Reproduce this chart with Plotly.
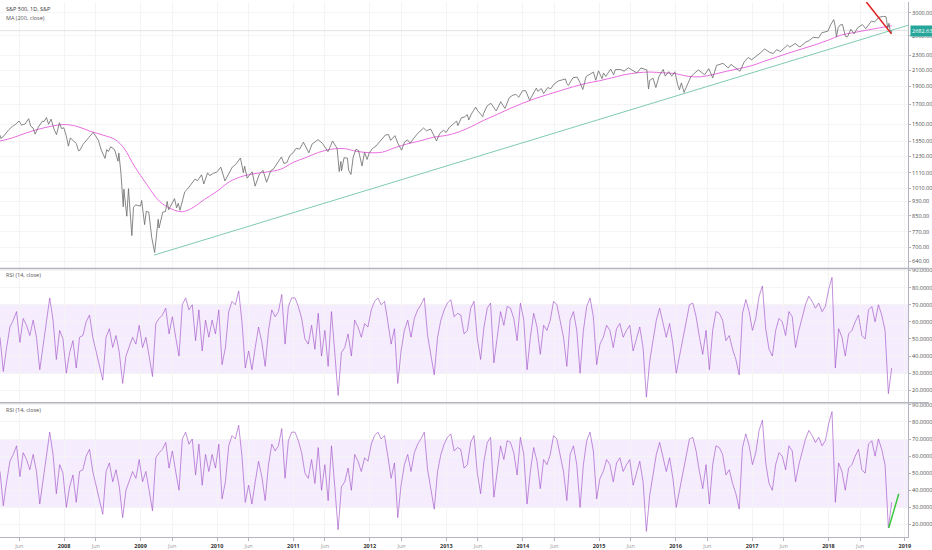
import numpy as np
import pandas as pd
import plotly.graph_objects as go
from plotly.subplots import make_subplots

PRICE_DATES = [
    '2007-03-01', '2007-03-05', '2007-03-15', '2007-03-30', '2007-04-13', '2007-04-30', '2007-05-15',
    '2007-05-31', '2007-06-12', '2007-06-29', '2007-07-16', '2007-07-26', '2007-08-06', '2007-08-16',
    '2007-08-31', '2007-09-19', '2007-09-28', '2007-10-09', '2007-10-19', '2007-10-31', '2007-11-15',
    '2007-11-26', '2007-12-10', '2007-12-20', '2007-12-31',
    '2008-01-11', '2008-01-22', '2008-01-31', '2008-02-15', '2008-02-29', '2008-03-10', '2008-03-17',
    '2008-03-31', '2008-04-15', '2008-04-30', '2008-05-19', '2008-05-30', '2008-06-13', '2008-06-27',
    '2008-07-15', '2008-07-23', '2008-07-31', '2008-08-11', '2008-08-29', '2008-09-15', '2008-09-19',
    '2008-09-29', '2008-10-10', '2008-10-13', '2008-10-27', '2008-11-04', '2008-11-20', '2008-11-28',
    '2008-12-08', '2008-12-31',
    '2009-01-06', '2009-01-20', '2009-01-28', '2009-02-09', '2009-02-23', '2009-03-09', '2009-03-26',
    '2009-03-30', '2009-04-17', '2009-04-30', '2009-05-08', '2009-05-15', '2009-06-12', '2009-06-22',
    '2009-06-30', '2009-07-08', '2009-07-31', '2009-08-14', '2009-08-28', '2009-09-18', '2009-09-30',
    '2009-10-19', '2009-10-30', '2009-11-17', '2009-11-27', '2009-12-15', '2009-12-31',
    '2010-01-19', '2010-02-08', '2010-02-26', '2010-03-15', '2010-03-31', '2010-04-23', '2010-05-07',
    '2010-05-13', '2010-05-25', '2010-06-18', '2010-07-02', '2010-07-23', '2010-08-09', '2010-08-26',
    '2010-09-15', '2010-09-30', '2010-10-15', '2010-11-05', '2010-11-16', '2010-11-30', '2010-12-15',
    '2010-12-31',
    '2011-01-14', '2011-01-31', '2011-02-18', '2011-03-16', '2011-03-31', '2011-04-29', '2011-05-20',
    '2011-06-15', '2011-06-30', '2011-07-07', '2011-07-29', '2011-08-08', '2011-08-16', '2011-08-19',
    '2011-08-31', '2011-09-16', '2011-09-22', '2011-10-03', '2011-10-14', '2011-10-27', '2011-11-08',
    '2011-11-25', '2011-12-07', '2011-12-19', '2011-12-30',
    '2012-01-13', '2012-01-31', '2012-02-15', '2012-03-16', '2012-03-30', '2012-04-10', '2012-04-30',
    '2012-05-15', '2012-06-01', '2012-06-15', '2012-06-29', '2012-07-12', '2012-07-31', '2012-08-17',
    '2012-09-14', '2012-09-28', '2012-10-18', '2012-10-31', '2012-11-15', '2012-11-30', '2012-12-18',
    '2012-12-31',
    '2013-01-15', '2013-01-31', '2013-02-19', '2013-02-25', '2013-03-14', '2013-03-28', '2013-04-11',
    '2013-04-18', '2013-04-30', '2013-05-21', '2013-05-31', '2013-06-24', '2013-06-28', '2013-07-15',
    '2013-08-02', '2013-08-27', '2013-09-18', '2013-09-30', '2013-10-08', '2013-10-29', '2013-11-15',
    '2013-11-29', '2013-12-13', '2013-12-31',
    '2014-01-15', '2014-02-03', '2014-02-28', '2014-03-07', '2014-03-14', '2014-03-31', '2014-04-11',
    '2014-04-30', '2014-05-15', '2014-05-30', '2014-06-20', '2014-07-24', '2014-07-31', '2014-08-07',
    '2014-08-29', '2014-09-18', '2014-10-01', '2014-10-15', '2014-10-31', '2014-11-28', '2014-12-05',
    '2014-12-16', '2014-12-29',
    '2015-01-15', '2015-01-22', '2015-02-02', '2015-02-25', '2015-03-11', '2015-03-20', '2015-04-15',
    '2015-04-30', '2015-05-21', '2015-06-30', '2015-07-20', '2015-08-17', '2015-08-25', '2015-08-31',
    '2015-09-16', '2015-09-29', '2015-10-15', '2015-11-03', '2015-11-13', '2015-11-30', '2015-12-14',
    '2015-12-29',
    '2016-01-11', '2016-01-20', '2016-01-29', '2016-02-11', '2016-02-29', '2016-03-15', '2016-03-31',
    '2016-04-20', '2016-05-19', '2016-06-08', '2016-06-27', '2016-07-15', '2016-08-15', '2016-09-09',
    '2016-09-22', '2016-10-14', '2016-11-04', '2016-11-25', '2016-12-13', '2016-12-30',
    '2017-01-26', '2017-02-15', '2017-03-01', '2017-03-27', '2017-04-13', '2017-04-28', '2017-05-17',
    '2017-06-19', '2017-06-30', '2017-07-26', '2017-08-10', '2017-08-18', '2017-09-15', '2017-09-29',
    '2017-10-20', '2017-11-15', '2017-11-30', '2017-12-29',
    '2018-01-12', '2018-01-26', '2018-02-02', '2018-02-08', '2018-02-16', '2018-02-26', '2018-03-09',
    '2018-03-23', '2018-04-02', '2018-04-18', '2018-05-03', '2018-05-21', '2018-06-12', '2018-06-28',
    '2018-07-25', '2018-08-10', '2018-08-29', '2018-09-20', '2018-10-03', '2018-10-11', '2018-10-17',
    '2018-10-24', '2018-10-29', '2018-10-30',
]
PRICE_CLOSE = [
    1403, 1374, 1387, 1421, 1452, 1482, 1501, 1531, 1493, 1503, 1553, 1482, 1467, 1411,
    1474, 1529, 1527, 1565, 1501, 1549, 1451, 1407, 1515, 1461, 1468,
    1401, 1310, 1379, 1350, 1331, 1273, 1277, 1323, 1351, 1386, 1427, 1400, 1360, 1278,
    1214, 1283, 1267, 1305, 1283, 1193, 1255, 1106, 899, 1003, 848, 1006, 752, 896,
    910, 903,
    935, 805, 874, 870, 743, 677, 832, 788, 870, 873, 929, 883, 946, 893,
    919, 880, 987, 1005, 1028, 1068, 1057, 1097, 1036, 1110, 1091, 1107, 1115,
    1150, 1056, 1104, 1150, 1169, 1217, 1111, 1157, 1074, 1117, 1022, 1103, 1127, 1047,
    1125, 1141, 1176, 1225, 1178, 1181, 1236, 1258,
    1293, 1286, 1343, 1257, 1326, 1364, 1333, 1266, 1321, 1353, 1292, 1119, 1192, 1124,
    1219, 1216, 1129, 1099, 1225, 1285, 1275, 1159, 1261, 1206, 1258,
    1289, 1312, 1343, 1404, 1408, 1358, 1398, 1331, 1278, 1343, 1362, 1334, 1379, 1418,
    1466, 1441, 1457, 1412, 1353, 1416, 1446, 1426,
    1472, 1498, 1530, 1488, 1563, 1569, 1593, 1541, 1598, 1669, 1631, 1573, 1606, 1682,
    1709, 1630, 1726, 1682, 1656, 1771, 1798, 1806, 1775, 1848,
    1848, 1742, 1859, 1878, 1841, 1872, 1816, 1884, 1870, 1924, 1963, 1988, 1931, 1910,
    2003, 2011, 1946, 1862, 2018, 2068, 2075, 1972, 2091,
    1992, 2063, 2020, 2114, 2040, 2108, 2107, 2086, 2131, 2063, 2128, 2102, 1868, 1972,
    1996, 1884, 2023, 2109, 2023, 2080, 2022, 2078,
    1923, 1859, 1940, 1829, 1932, 2016, 2060, 2102, 2040, 2119, 2001, 2162, 2190, 2128,
    2177, 2133, 2085, 2213, 2271, 2239,
    2297, 2349, 2396, 2342, 2329, 2384, 2357, 2453, 2423, 2477, 2438, 2426, 2500, 2519,
    2575, 2565, 2648, 2674,
    2786, 2873, 2762, 2581, 2732, 2780, 2786, 2588, 2582, 2708, 2630, 2733, 2787, 2716,
    2846, 2833, 2914, 2931, 2925, 2728, 2809, 2656, 2641, 2682.63,
]

# MA (200, close)
MA_DATES = [
    '2007-03-01', '2007-05-01', '2007-07-01', '2007-09-01', '2007-11-01', '2008-01-01', '2008-03-01',
    '2008-05-01', '2008-07-01', '2008-09-01', '2008-10-15', '2008-12-01', '2009-02-01', '2009-04-01',
    '2009-06-01', '2009-07-20', '2009-09-01', '2009-11-01', '2010-01-01', '2010-03-01', '2010-05-01',
    '2010-07-01', '2010-09-01', '2010-11-01', '2011-01-01', '2011-03-01', '2011-05-01', '2011-07-01',
    '2011-09-01', '2011-11-01', '2012-01-01', '2012-03-01', '2012-05-01', '2012-07-01', '2012-09-01',
    '2012-11-01', '2013-01-01', '2013-03-01', '2013-05-01', '2013-07-01', '2013-09-01', '2013-11-01',
    '2014-01-01', '2014-03-01', '2014-05-01', '2014-07-01', '2014-09-01', '2014-11-01', '2015-01-01',
    '2015-03-01', '2015-05-01', '2015-07-01', '2015-09-01', '2015-11-01', '2016-01-01', '2016-03-01',
    '2016-05-01', '2016-07-01', '2016-09-01', '2016-11-01', '2017-01-01', '2017-03-01', '2017-05-01',
    '2017-07-01', '2017-09-01', '2017-11-01', '2018-01-01', '2018-03-01', '2018-05-01', '2018-07-01',
    '2018-09-01', '2018-10-30',
]
MA_VALUES = [
    1352, 1380, 1420, 1455, 1482, 1498, 1482,
    1440, 1405, 1365, 1290, 1160, 1030, 930,
    885, 872, 890, 940, 990, 1050, 1086,
    1105, 1117, 1135, 1185, 1220, 1260, 1285,
    1290, 1268, 1258, 1262, 1298, 1330, 1355,
    1385, 1400, 1430, 1480, 1540, 1595, 1655,
    1710, 1760, 1805, 1850, 1895, 1935, 1965,
    2000, 2040, 2065, 2075, 2065, 2055, 2020,
    2015, 2045, 2085, 2120, 2160, 2220, 2280,
    2340, 2400, 2460, 2530, 2610, 2650, 2690,
    2730, 2765,
]

# RSI (14, close) at evenly spaced bars
RSI_START, RSI_END = '2007-03-01', '2018-10-30'
RSI_VALUES = [
    51, 31, 45, 57, 61, 66, 48, 62, 58, 52, 61, 51, 32, 45, 61, 74, 61, 38, 55, 50,
    30, 42, 49, 33, 51, 52, 60, 64, 51, 42, 34, 26, 51, 56, 45, 52, 42, 24, 40, 45,
    51, 47, 58, 45, 51, 40, 28, 59, 62, 64, 68, 53, 63, 51, 40, 70, 74, 67, 70, 49,
    67, 43, 61, 51, 61, 53, 67, 35, 45, 66, 72, 70, 78, 60, 33, 43, 32, 45, 57, 48,
    34, 55, 67, 63, 66, 76, 47, 69, 74, 74, 69, 62, 50, 47, 58, 44, 65, 40, 55, 34,
    66, 42, 17, 42, 45, 53, 40, 61, 57, 51, 59, 57, 67, 72, 74, 70, 72, 60, 47, 56,
    24, 43, 55, 61, 51, 62, 67, 70, 74, 52, 41, 29, 51, 61, 67, 71, 73, 63,
    65, 64, 53, 55, 68, 72, 50, 38, 57, 68, 71, 36, 51, 66, 58, 69, 68, 62, 49, 71,
    61, 32, 51, 65, 57, 41, 58, 55, 61, 72, 70, 61, 51, 34, 61, 66, 55, 30, 55, 69,
    74, 63, 35, 47, 51, 58, 55, 45, 56, 59, 51, 55, 58, 43, 50, 57, 45, 16, 37, 50,
    61, 68, 59, 51, 59, 47, 30, 40, 51, 59, 70, 71, 63, 51, 41, 55, 32, 55, 66, 65,
    61, 49, 52, 44, 38, 29, 65, 73, 66, 55, 62, 75, 81, 56, 44, 40, 55, 62, 60, 52,
    66, 63, 45, 55, 62, 70, 75, 72, 68, 71, 66, 69, 79, 86, 33, 56, 51, 40, 53, 55,
    60, 64, 52, 50, 67, 69, 60, 70, 64, 55, 18, 33,
]

PRICE_TICKS = [640, 700, 770, 850, 930, 1010, 1110, 1230, 1350, 1500, 1700, 1900, 2100, 2300, 2600, 3000]
RSI_TICKS = [20, 30, 40, 50, 60, 70, 80, 90]
X_TICKS = ['2007-06-01'] + [d for y in range(2008, 2019) for d in (f'{y}-01-01', f'{y}-06-01')] + ['2019-01-01']
X_RANGE = ['2007-03-01', '2019-01-16']

# drawings
TREND_DATES, TREND_PRICES = ['2009-03-06', '2019-01-16'], [666, 2774]
RED_DATES, RED_PRICES = ['2018-07-01', '2018-10-29'], [3205, 2630]
RSI_DRAW_DATES, RSI_DRAW_VALUES = ['2018-10-16', '2018-12-03'], [18, 38]

rsi_dates = pd.date_range(RSI_START, RSI_END, periods=len(RSI_VALUES))

GRID = '#f4f4f4'
AXIS = '#b2b5be'
FONT = 'Open Sans'

fig = make_subplots(rows=3, cols=1, shared_xaxes=True, vertical_spacing=0,
                    row_heights=[268, 135, 135])

# Top panel — price, MA, drawings
fig.add_trace(go.Scatter(x=X_RANGE, y=[PRICE_CLOSE[-1]] * 2, mode='lines',
                         line=dict(color='#e2e2e2', width=1), hoverinfo='skip'), row=1, col=1)
fig.add_trace(go.Scatter(x=TREND_DATES, y=TREND_PRICES, mode='lines',
                         line=dict(color='#7fcbb0', width=1)), row=1, col=1)
fig.add_trace(go.Scatter(x=MA_DATES, y=MA_VALUES, mode='lines',
                         line=dict(color='#ea6ee0', width=1, shape='spline')), row=1, col=1)
fig.add_trace(go.Scatter(x=PRICE_DATES, y=PRICE_CLOSE, mode='lines',
                         line=dict(color='#6a6a6a', width=0.8)), row=1, col=1)
fig.add_trace(go.Scatter(x=RED_DATES, y=RED_PRICES, mode='lines',
                         line=dict(color='#e01b1b', width=1.5)), row=1, col=1)

# RSI panels (same indicator twice)
for r in (2, 3):
    fig.add_trace(go.Scatter(x=rsi_dates, y=RSI_VALUES, mode='lines',
                             line=dict(color='rgba(160, 80, 200, 0.8)', width=0.8)), row=r, col=1)
    fig.add_hrect(y0=30, y1=70, fillcolor='rgba(165, 95, 240, 0.11)', line_width=0,
                  layer='below', row=r, col=1)

fig.add_trace(go.Scatter(x=RSI_DRAW_DATES, y=RSI_DRAW_VALUES, mode='lines',
                         line=dict(color='#3cc83c', width=1.5)), row=3, col=1)

fig.update_layout(
    width=932, height=550,
    margin=dict(l=0, r=21, t=0, b=12),
    paper_bgcolor='white', plot_bgcolor='white',
    showlegend=False,
    font=dict(family=FONT, size=5.5, color='#4a4a4a'),
)

# x axes
x_text = ['<span style="color:#999">Jun</span>' if d.endswith('06-01') else f'<b>{d[:4]}</b>'
          for d in X_TICKS]
for r in (1, 2, 3):
    fig.update_xaxes(range=X_RANGE, tickvals=X_TICKS, showgrid=True, gridcolor=GRID,
                     gridwidth=1, zeroline=False, row=r, col=1)
fig.update_xaxes(showticklabels=False, row=1, col=1)
fig.update_xaxes(showticklabels=False, row=2, col=1)
fig.update_xaxes(ticktext=x_text, ticks='outside', ticklen=3, tickcolor=AXIS,
                 showline=True, linecolor=AXIS, linewidth=1,
                 tickfont=dict(size=5.5, color='#333'), row=3, col=1)

# y axes
fig.update_yaxes(type='log', range=[np.log10(613), np.log10(3205)], side='right',
                 tickvals=PRICE_TICKS, ticktext=[f'{v:.2f}' for v in PRICE_TICKS],
                 row=1, col=1)
for r in (2, 3):
    fig.update_yaxes(range=[12.7, 91.2], side='right', tickvals=RSI_TICKS,
                     ticktext=[f'{v:.4f}' for v in RSI_TICKS], row=r, col=1)
fig.update_yaxes(showgrid=True, gridcolor=GRID, zeroline=False, showline=True,
                 linecolor=AXIS, linewidth=1, ticks='outside', ticklen=2, tickcolor=AXIS,
                 tickfont=dict(size=5.5, color='#4a4a4a'))

# panel separators
for yp in (0.50186, 0.25093):
    fig.add_shape(type='line', xref='paper', yref='paper', x0=0, x1=1.023, y0=yp, y1=yp,
                  line=dict(color=AXIS, width=1.5))

# labels
fig.add_annotation(text='S&P 500, 1D, S&P', xref='paper', yref='paper', x=0.004, y=0.987,
                   xanchor='left', yanchor='middle', showarrow=False,
                   font=dict(size=5.5, color='#333'))
fig.add_annotation(text='MA (200, close)', xref='paper', yref='paper', x=0.004, y=0.970,
                   xanchor='left', yanchor='middle', showarrow=False,
                   font=dict(size=5.5, color='#555'))
for yp in (0.4888, 0.2379):
    fig.add_annotation(text='RSI (14, close)', xref='paper', yref='paper', x=0.004, y=yp,
                       xanchor='left', yanchor='middle', showarrow=False,
                       font=dict(size=5.5, color='#555'))
fig.add_annotation(text=f'{PRICE_CLOSE[-1]:.2f}', xref='paper', yref='y',
                   x=1.002, y=np.log10(PRICE_CLOSE[-1]), xanchor='left', yanchor='middle',
                   showarrow=False, bgcolor='#26a69a', borderpad=1,
                   font=dict(size=5.5, color='white'))

fig.write_html("out.html", config={'displayModeBar': False},
               post_script="document.body.style.margin='0';")
